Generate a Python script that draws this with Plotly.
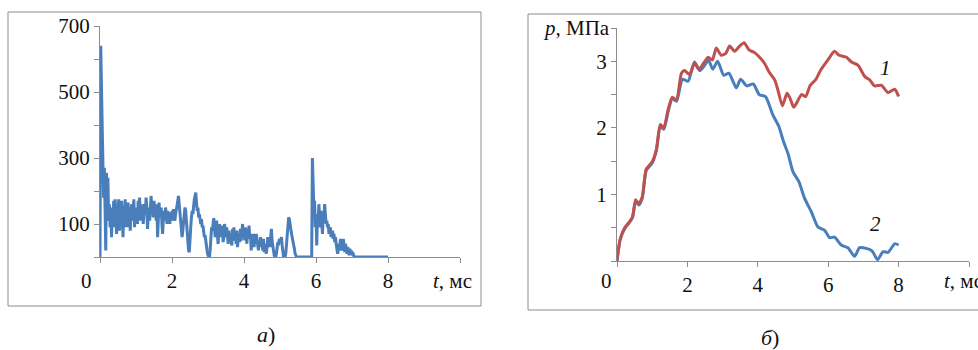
import plotly.graph_objects as go

W, H = 978, 350

# ---------------- Panel a) : noisy signal, sampled every 0.02 ms ----------------
v_a = [
    0, 640, 520, 340, 290, 180, 270, 150, 20, 255, 140, 240, 110, 160, 90, 150, 60, 140, 100, 170,      # 0.00-0.38
    90, 175, 120, 70, 160, 130, 175, 80, 150, 110, 170, 100, 60, 150, 120, 175, 90, 140, 110, 165,      # 0.40-0.78
    90, 150, 80, 130, 160, 110, 140, 175, 90, 150, 120, 140, 100, 170, 130, 180, 110, 150, 120, 160,    # 0.80-1.18
    100, 140, 160, 130, 180, 150, 85, 130, 150, 110, 140, 185, 130, 160, 120, 170, 140, 150, 110, 160,  # 1.20-1.58
    60, 130, 165, 120, 140, 150, 100, 70, 120, 140, 110, 150, 130, 100, 140, 120, 130, 100, 135, 120,   # 1.60-1.98
    140, 110, 145, 120, 110, 130, 140, 150, 170, 185, 160, 130, 100, 75, 60, 80, 110, 130, 150, 140,    # 2.00-2.38
    110, 70, 40, 20, 15, 40, 90, 120, 140, 130, 160, 175, 185, 195, 165, 140, 150, 120, 130, 110,       # 2.40-2.78
    100, 115, 90, 95, 70, 60, 65, 40, 30, 15, 5, 0, 0, 20, 60, 90, 80, 100, 118, 90,                    # 2.80-3.18
    60, 95, 110, 70, 40, 80, 100, 60, 90, 70, 95, 45, 60, 100, 80, 60, 90, 70, 40, 80,                  # 3.20-3.58
    55, 70, 40, 35, 85, 60, 90, 50, 75, 40, 80, 30, 60, 70, 45, 85, 50, 70, 100, 60,                    # 3.60-3.98
    80, 50, 90, 70, 40, 85, 60, 95, 55, 70, 20, 60, 45, 70, 30, 60, 40, 70, 50, 30,                     # 4.00-4.38
    20, 50, 35, 60, 30, 50, 20, 55, 15, 40, 20, 10, 30, 60, 35, 50, 30, 70, 85, 50,                     # 4.40-4.78
    30, 15, 5, 0, 0, 10, 30, 45, 35, 55, 45, 55, 60, 35, 10, 0, 0, 0, 10, 40,                           # 4.80-5.18
    70, 110, 120, 115, 90, 85, 70, 60, 55, 40, 25, 10, 0, 0, 0, 0, 0, 0, 0, 0,                          # 5.20-5.58
    0, 0, 0, 0, 0, 0, 0, 0, 0, 0, 0, 0, 0, 0, 0, 300, 190, 150, 170, 90,                                # 5.60-5.98
    130, 35, 120, 110, 160, 100, 90, 140, 110, 70, 130, 120, 160, 140, 100, 110, 90, 100, 70, 85,       # 6.00-6.38
    90, 60, 75, 80, 55, 70, 45, 60, 40, 25, 10, 20, 40, 30, 55, 25, 20, 35, 55, 30,                     # 6.40-6.78
    15, 40, 25, 10, 30, 20, 5, 25, 10, 20, 5, 15, 5, 0, 0, 0, 0, 0, 0, 0,                               # 6.80-7.18
    0, 0, 0, 0, 0, 0, 0, 0, 0, 0, 0, 0, 0, 0, 0, 0, 0, 0, 0, 0,                                         # 7.20-7.58
    0, 0, 0, 0, 0, 0, 0, 0, 0, 0, 0, 0, 0, 0, 0, 0, 0, 0, 0, 0,                                         # 7.60-7.98
    0,                                                                                                  # 8.00
]
t_a = [round(0.02 * i, 2) for i in range(len(v_a))]

# ---------------- Panel б) : pressure curves ----------------
t_b1 = [0, 0.09, 0.22, 0.34, 0.44, 0.53, 0.62, 0.72, 0.83, 1.0, 1.12, 1.23, 1.33,
        1.45, 1.57, 1.69, 1.83, 1.92, 2.06, 2.2, 2.33, 2.46, 2.59, 2.71, 2.82,
        2.96, 3.09, 3.2, 3.34, 3.47, 3.61, 3.75, 3.91, 4.05, 4.19, 4.32, 4.48,
        4.57, 4.7, 4.83, 4.92, 5.02, 5.12, 5.24, 5.36, 5.49, 5.64, 5.8, 5.99,
        6.18, 6.31, 6.52, 6.66, 6.85, 7.04, 7.18, 7.32, 7.51, 7.7, 7.89, 8.0]
p_b1 = [0, 0.33, 0.5, 0.58, 0.66, 0.92, 0.86, 0.97, 1.38, 1.49, 1.68, 2.05, 2.0,
        2.27, 2.46, 2.42, 2.82, 2.86, 2.8, 2.97, 2.88, 2.97, 3.06, 3.02, 3.2,
        3.09, 3.12, 3.23, 3.15, 3.22, 3.28, 3.17, 3.13, 3.06, 2.97, 2.84, 2.72,
        2.57, 2.33, 2.52, 2.44, 2.31, 2.39, 2.5, 2.47, 2.64, 2.72, 2.88, 3.02,
        3.15, 3.09, 3.06, 2.99, 2.94, 2.77, 2.72, 2.63, 2.64, 2.53, 2.58, 2.47]

t_b2 = [0, 0.09, 0.22, 0.34, 0.44, 0.53, 0.62, 0.72, 0.83, 1.0, 1.12, 1.23, 1.33,
        1.45, 1.57, 1.69, 1.86, 2.02, 2.2, 2.35, 2.49, 2.6, 2.72, 2.86, 3.03,
        3.18, 3.39, 3.51, 3.69, 3.87, 4.04, 4.22, 4.43, 4.6, 4.72, 4.86, 5.0,
        5.17, 5.33, 5.52, 5.71, 5.9, 6.04, 6.18, 6.37, 6.56, 6.75, 6.89, 7.08,
        7.25, 7.4, 7.56, 7.7, 7.89, 8.0]
p_b2 = [0, 0.32, 0.49, 0.57, 0.65, 0.9, 0.84, 0.95, 1.36, 1.47, 1.66, 2.02, 1.98,
        2.24, 2.44, 2.4, 2.73, 2.7, 2.99, 2.86, 2.94, 3.02, 2.88, 3.0, 2.79,
        2.82, 2.6, 2.73, 2.63, 2.66, 2.5, 2.47, 2.19, 2.02, 1.81, 1.61, 1.34,
        1.19, 0.94, 0.74, 0.51, 0.46, 0.35, 0.36, 0.24, 0.2, 0.07, 0.2, 0.19,
        0.15, 0.02, 0.14, 0.13, 0.26, 0.24]

# tick definitions
xa_ticks = [0, 2, 4, 6, 8, 10]
xa_text = ["", "2", "4", "6", "8", ""]
ya_ticks = [0, 100, 200, 300, 400, 500, 600, 700]
ya_text = ["", "100", "", "300", "", "500", "", "700"]
yb_ticks = [0, 0.5, 1, 1.5, 2, 2.5, 3, 3.5]
yb_text = ["", "", "1", "", "2", "", "3", ""]

BLUE = "#4A7EBB"
RED = "#C0504D"
GRAY = "#8C8C8C"
FONT = "Liberation Serif"


def px(x):
    return x / W


def py(y):
    return 1 - y / H


fig = go.Figure()
fig.add_trace(go.Scatter(x=t_a, y=v_a, mode="lines", line=dict(color=BLUE, width=3),
                         xaxis="x", yaxis="y", cliponaxis=False, showlegend=False))
fig.add_trace(go.Scatter(x=t_b2, y=p_b2, mode="lines",
                         line=dict(color=BLUE, width=3, shape="spline", smoothing=0.6),
                         xaxis="x2", yaxis="y2", cliponaxis=False, showlegend=False))
fig.add_trace(go.Scatter(x=t_b1, y=p_b1, mode="lines",
                         line=dict(color=RED, width=3, shape="spline", smoothing=0.6),
                         xaxis="x2", yaxis="y2", cliponaxis=False, showlegend=False))

axis_common = dict(showgrid=False, zeroline=False, showline=True, linecolor=GRAY,
                   linewidth=1, ticks="outside", tickcolor=GRAY, ticklen=5, tickwidth=1,
                   tickfont=dict(family=FONT, size=21, color="#111"), tickmode="array",
                   automargin=False)

fig.update_layout(
    width=W, height=H, autosize=False, margin=dict(l=0, r=0, t=0, b=0, pad=0),
    paper_bgcolor="white", plot_bgcolor="white", showlegend=False,
    xaxis=dict(domain=[px(100), px(460)], range=[0, 10], anchor="y",
               tickvals=xa_ticks, ticktext=xa_text, **axis_common),
    yaxis=dict(domain=[py(257), py(26)], range=[0, 700], anchor="x",
               tickvals=ya_ticks, ticktext=ya_text, **axis_common),
    xaxis2=dict(domain=[px(617), px(969)], range=[0, 10], anchor="y2",
                tickvals=xa_ticks, ticktext=xa_text, **axis_common),
    yaxis2=dict(domain=[py(261), py(28)], range=[0, 3.5], anchor="x2",
                tickvals=yb_ticks, ticktext=yb_text, **axis_common),
)

# frames around the panels
fig.add_shape(type="rect", xref="paper", yref="paper", x0=px(8), x1=px(481),
              y0=py(306), y1=py(12), line=dict(color=GRAY, width=1), layer="below")
fig.add_shape(type="rect", xref="paper", yref="paper", x0=px(528), x1=px(990),
              y0=py(310), y1=py(14), line=dict(color=GRAY, width=1), layer="below")


def ann(text, x, y, xanchor="center", size=21):
    fig.add_annotation(text=text, x=px(x), y=py(y), xref="paper", yref="paper",
                       xanchor=xanchor, yanchor="middle", showarrow=False,
                       font=dict(family=FONT, size=size, color="#111"))


ann("0", 86, 281)
ann("0", 606, 281)
ann("<i>t</i>, мс", 431, 281, xanchor="left")
ann("<i>t</i>, мс", 942, 281, xanchor="left")
ann("<i>p</i>, МПа", 541, 28, xanchor="left")
ann("<i>1</i>", 885, 68)
ann("<i>2</i>", 875, 224)
ann("<i>а</i>)", 266, 334, size=22)
ann("<i>б</i>)", 770, 337, size=22)

fig.write_html(
    "out.html",
    config={"responsive": False, "displayModeBar": False},
    post_script="document.body.style.margin='0';document.body.style.overflow='hidden';",
)
